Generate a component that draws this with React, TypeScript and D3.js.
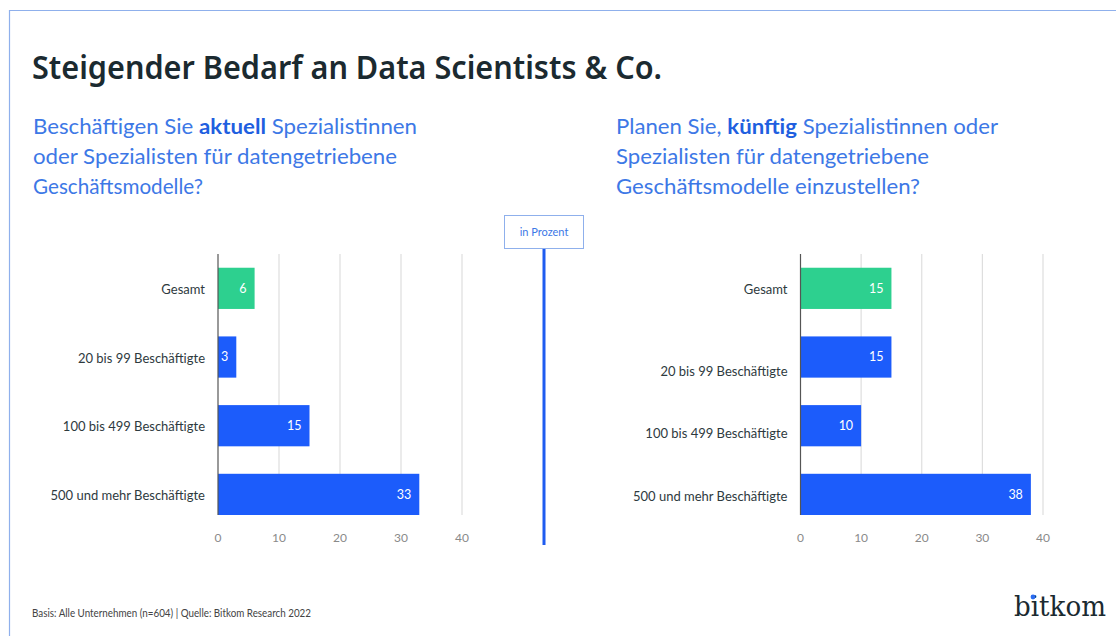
import React, { useEffect, useRef } from "react";
import * as d3 from "d3";

const categories = [
  "Gesamt",
  "20 bis 99 Beschäftigte",
  "100 bis 499 Beschäftigte",
  "500 und mehr Beschäftigte",
];
const currentValues = [6, 3, 15, 33];
const futureValues = [15, 15, 10, 38];
const tickValues = [0, 10, 20, 30, 40];

const leftQuestion = [
  [{ t: "Beschäftigen Sie " }, { t: "aktuell", b: true }, { t: " Spezialistinnen" }],
  [{ t: "oder Spezialisten für datengetriebene" }],
  [{ t: "Geschäftsmodelle?" }],
];
const rightQuestion = [
  [{ t: "Planen Sie, " }, { t: "künftig", b: true }, { t: " Spezialistinnen oder" }],
  [{ t: "Spezialisten für datengetriebene" }],
  [{ t: "Geschäftsmodelle einzustellen?" }],
];

const W = 1116;
const H = 636;
const FONT = "Lato, 'Open Sans', sans-serif";
const BLUE = "#1c5cfb";
const GREEN = "#2dd08f";
const Q_BLUE = "#3d78e6";
const DARK = "#1b2a30";

const App = () => {
  const ref = useRef(null);

  useEffect(() => {
    const svg = d3.select(ref.current);
    svg.selectAll("*").remove();

    svg.append("rect").attr("width", W).attr("height", H).attr("fill", "#fff");
    // frame (left + top only visible)
    svg
      .append("path")
      .attr("d", `M9.5,${H} V10.5 H${W}`)
      .attr("fill", "none")
      .attr("stroke", "#8fb0ec")
      .attr("stroke-width", 1.2);

    svg
      .append("text")
      .attr("x", 32)
      .attr("y", 79)
      .attr("fill", DARK)
      .style("font-family", "'Noto Sans', sans-serif")
      .style("font-weight", 600)
      .style("font-size", "33px")
      .attr("textLength", 630)
      .attr("lengthAdjust", "spacingAndGlyphs")
      .text("Steigender Bedarf an Data Scientists & Co.");

    const question = (lines, x, widths) => {
      lines.forEach((parts, i) => {
        const t = svg
          .append("text")
          .attr("x", x)
          .attr("y", 134 + i * 30)
          .attr("fill", Q_BLUE)
          .style("font-family", FONT)
          .style("font-size", "20.5px")
          .attr("textLength", widths[i])
          .attr("lengthAdjust", "spacingAndGlyphs");
        parts.forEach((p) => {
          t.append("tspan")
            .style("font-weight", p.b ? 700 : 400)
            .attr("fill", p.b ? "#1f5fe0" : Q_BLUE)
            .text(p.t);
        });
      });
    };
    question(leftQuestion, 33, [384, 364, 170]);
    question(rightQuestion, 616, [382, 313, 304]);

    // "in Prozent" box and divider
    svg
      .append("rect")
      .attr("x", 504.5)
      .attr("y", 215.5)
      .attr("width", 79)
      .attr("height", 33)
      .attr("fill", "#fff")
      .attr("stroke", "#8fb0ec");
    svg
      .append("text")
      .attr("x", 544)
      .attr("y", 236)
      .attr("text-anchor", "middle")
      .attr("fill", Q_BLUE)
      .style("font-family", FONT)
      .style("font-size", "11px")
      .text("in Prozent");
    svg
      .append("line")
      .attr("x1", 544)
      .attr("x2", 544)
      .attr("y1", 249)
      .attr("y2", 545)
      .attr("stroke", "#1f5cf0")
      .attr("stroke-width", 3);

    const y = d3
      .scaleBand()
      .domain(categories)
      .range([254, 515])
      .paddingInner(0.4)
      .paddingOuter(0.1)
      .align(1);

    const panel = (values, x0, x1, labelShift) => {
      const x = d3.scaleLinear().domain([0, 40]).range([x0, x1]);
      const g = svg.append("g");

      g.selectAll("line.grid")
        .data(tickValues.slice(1))
        .join("line")
        .attr("x1", (d) => x(d))
        .attr("x2", (d) => x(d))
        .attr("y1", 254)
        .attr("y2", 515)
        .attr("stroke", "#dedede")
        .attr("stroke-width", 1.2);

      g.selectAll("text.tick")
        .data(tickValues)
        .join("text")
        .attr("x", (d) => x(d))
        .attr("y", 542)
        .attr("text-anchor", "middle")
        .attr("fill", "#8a8a8a")
        .style("font-family", FONT)
        .style("font-size", "12px")
        .text((d) => d);

      g.selectAll("rect.bar")
        .data(values)
        .join("rect")
        .attr("x", x(0))
        .attr("y", (d, i) => y(categories[i]))
        .attr("width", (d) => x(d) - x(0))
        .attr("height", y.bandwidth())
        .attr("fill", (d, i) => (i === 0 ? GREEN : BLUE));

      g.selectAll("text.val")
        .data(values)
        .join("text")
        .attr("x", (d) => x(d) - 8)
        .attr("y", (d, i) => y(categories[i]) + y.bandwidth() / 2)
        .attr("dy", "0.35em")
        .attr("text-anchor", "end")
        .attr("fill", "#fff")
        .style("font-family", FONT)
        .style("font-size", "12.5px")
        .text((d) => d);

      g.selectAll("text.cat")
        .data(categories)
        .join("text")
        .attr("x", x0 - 13)
        .attr("y", (d, i) => y(d) + y.bandwidth() / 2 + labelShift[i])
        .attr("dy", "0.35em")
        .attr("text-anchor", "end")
        .attr("fill", "#2e3a3e")
        .style("font-family", FONT)
        .style("font-size", "13px")
        .text((d) => d);

      g.append("line")
        .attr("x1", x0)
        .attr("x2", x0)
        .attr("y1", 254)
        .attr("y2", 515)
        .attr("stroke", "#555")
        .attr("stroke-width", 1.2);
    };

    panel(currentValues, 218, 462, [1, 1, 1, 1]);
    // right panel labels sit a little off their bars in the original
    panel(futureValues, 800.5, 1043, [1, 14, 8, 2]);

    svg
      .append("text")
      .attr("x", 32)
      .attr("y", 617)
      .attr("fill", "#444")
      .style("font-family", FONT)
      .style("font-size", "10.5px")
      .attr("textLength", 279)
      .attr("lengthAdjust", "spacingAndGlyphs")
      .text("Basis: Alle Unternehmen (n=604) | Quelle: Bitkom Research 2022");

    svg
      .append("text")
      .attr("x", 1014)
      .attr("y", 616)
      .attr("fill", DARK)
      .style("font-family", "'DejaVu Serif', serif")
      .style("font-size", "28px")
      .attr("textLength", 92)
      .attr("lengthAdjust", "spacingAndGlyphs")
      .text("bitkom");
    svg.append("circle").attr("cx", 1033).attr("cy", 597).attr("r", 2.4).attr("fill", "#2a6cf0");
  }, []);

  return (
    <div style={{ position: "fixed", left: 0, top: 0 }}>
      <svg ref={ref} width={W} height={H} style={{ display: "block" }}></svg>
    </div>
  );
};

export default App;
